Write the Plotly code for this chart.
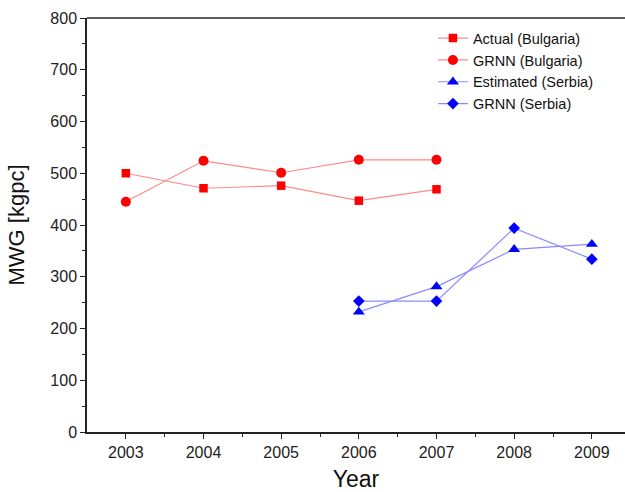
import plotly.graph_objects as go

years_bg = [2003, 2004, 2005, 2006, 2007]
actual_bg = [500, 471, 476, 447, 469]
grnn_bg = [445, 524, 501, 526, 526]
years_rs = [2006, 2007, 2008, 2009]
estimated_rs = [232, 281, 353, 363]
grnn_rs = [253, 253, 394, 334]
x_ticks = [2003, 2004, 2005, 2006, 2007, 2008, 2009]

RED_L = "#ff8a8a"
RED = "#ff0000"
BLUE_L = "#8a8aff"
BLUE = "#0000ff"

fig = go.Figure()
fig.add_trace(go.Scatter(x=years_bg, y=actual_bg, name="Actual (Bulgaria)", mode="lines+markers",
                         line=dict(color=RED_L, width=1.2),
                         marker=dict(symbol="square", size=8.5, color=RED)))
fig.add_trace(go.Scatter(x=years_bg, y=grnn_bg, name="GRNN (Bulgaria)", mode="lines+markers",
                         line=dict(color=RED_L, width=1.2),
                         marker=dict(symbol="circle", size=10, color=RED)))
fig.add_trace(go.Scatter(x=years_rs, y=estimated_rs, name="Estimated (Serbia)", mode="lines+markers",
                         line=dict(color=BLUE_L, width=1.2),
                         marker=dict(symbol="triangle-up", size=10.5, color=BLUE)))
fig.add_trace(go.Scatter(x=years_rs, y=grnn_rs, name="GRNN (Serbia)", mode="lines+markers",
                         line=dict(color=BLUE_L, width=1.2),
                         marker=dict(symbol="diamond", size=9, color=BLUE)))

font = "Liberation Sans, Arial, sans-serif"
fig.update_layout(
    width=625, height=492,
    margin=dict(l=87, r=0, t=18, b=60, autoexpand=False),
    paper_bgcolor="white", plot_bgcolor="white",
    font=dict(family=font, color="#222222", size=16),
    showlegend=True,
    legend=dict(x=0.643, y=0.99, xanchor="left", yanchor="top",
                bgcolor="rgba(0,0,0,0)", font=dict(size=14.5, color="#111111"),
                tracegroupgap=0, itemsizing="trace"),
    xaxis=dict(range=[2002.5, 2009.427], tickmode="array",
               tickvals=x_ticks,
               ticks="outside", ticklen=5, tickwidth=1.3, tickcolor="#222",
               showline=True, linecolor="#222", linewidth=1.5,
               showgrid=False, zeroline=False, automargin=False,
               minor=dict(tickvals=[t + 0.5 for t in x_ticks[:-1]],
                          ticks="outside", ticklen=3, tickcolor="#222", showgrid=False),
               title=dict(text="Year", font=dict(size=23, color="#111"), standoff=13),
               tickfont=dict(size=16)),
    yaxis=dict(range=[0, 800], dtick=100, tick0=0,
               ticks="outside", ticklen=5, tickwidth=1.3, tickcolor="#222",
               showline=True, linecolor="#222", linewidth=1.5,
               showgrid=False, zeroline=False, automargin=False,
               minor=dict(dtick=50, ticks="outside", ticklen=3, tickcolor="#222", showgrid=False),
               title=dict(text="MWG [kgpc]", font=dict(size=22, color="#111"), standoff=20),
               tickfont=dict(size=16)),
    shapes=[dict(type="line", xref="paper", yref="paper", x0=0, x1=1, y0=1, y1=1,
                 line=dict(color="#222", width=1.5))],
)
fig.write_html("out.html", config={"displayModeBar": False},
               post_script="document.body.style.margin='0';")
